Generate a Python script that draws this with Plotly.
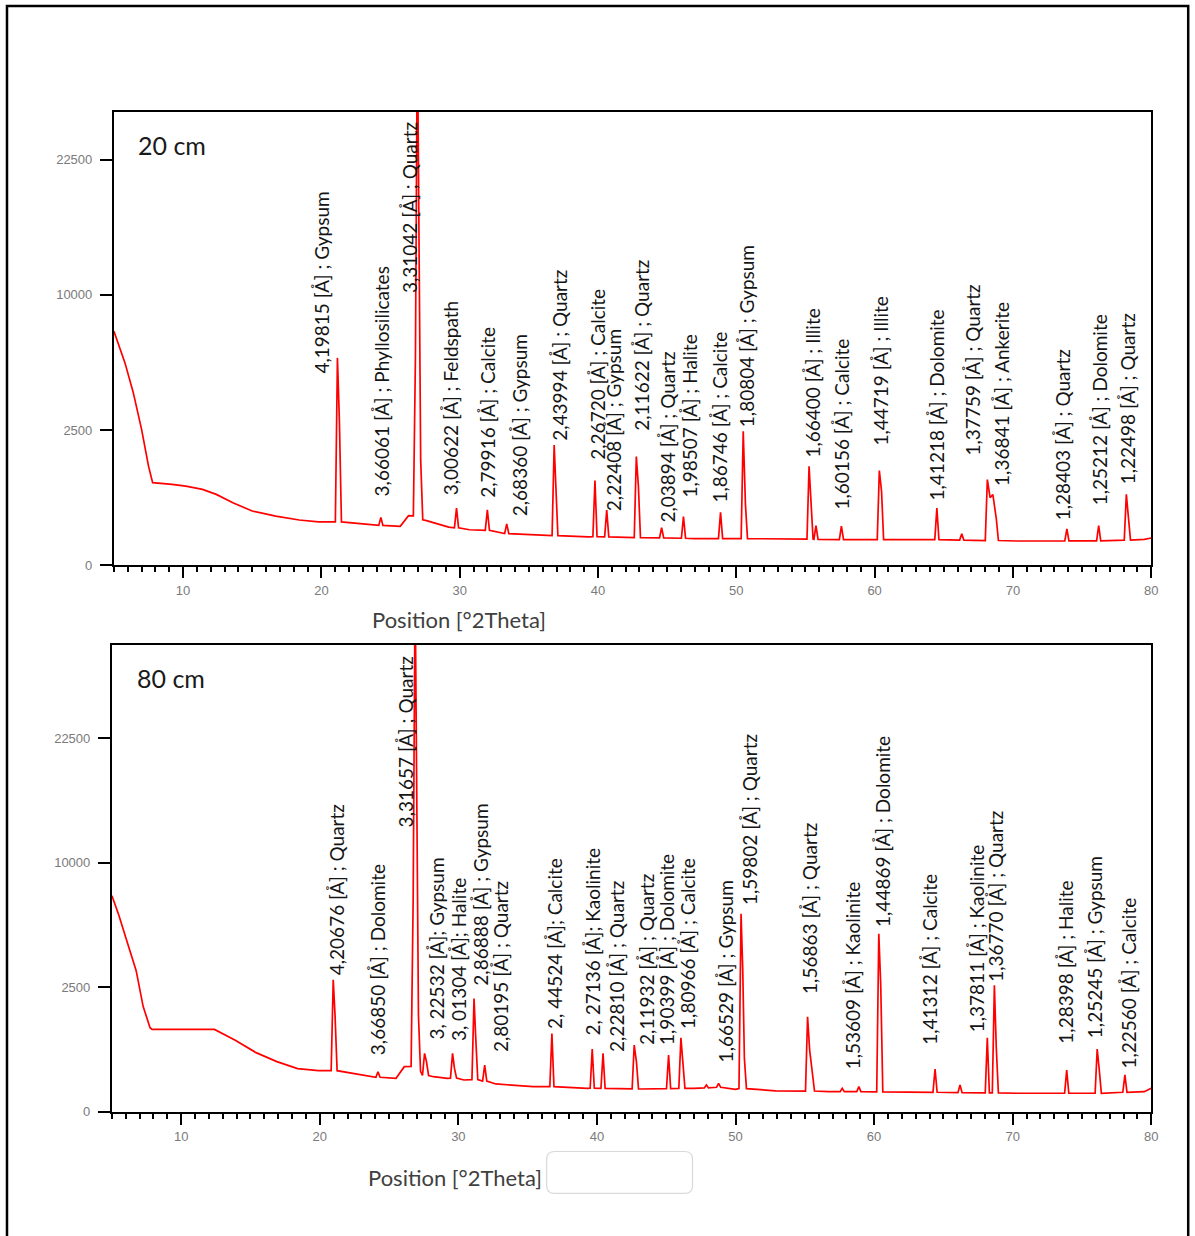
import numpy as np
import plotly.graph_objects as go

W, H = 1195, 1236
S = 0.9948  # compensation for the slight shrink seen in the rendered picture

# ---------------- data : 20 cm ----------------
BG_TOP_X = [5.0, 5.8, 6.4, 7.0, 7.5, 7.8, 9.2, 10.2, 11.4, 12.4, 13.6, 15.0, 16.7, 18.4, 19.8,
            22.2, 23.8, 25.7, 26.3, 27.6, 29.2, 30.7, 33.5, 36.2, 39.3, 43.2, 47.0, 52.9, 58.7,
            62.6, 70.3, 76.1, 79.5, 80.0]
BG_TOP_Y = [7490, 5600, 4070, 2520, 1340, 928, 890, 853, 784, 683, 532, 399, 328, 277, 255,
            245, 225, 205, 333, 270, 196, 170, 134, 118, 108, 100, 95, 95, 88,
            88, 79, 79, 90, 100]
PK_TOP_X = [21.16, 21.30, 24.30, 26.80, 26.94, 27.06, 27.18, 29.77, 32.00, 33.40, 36.83, 36.95,
            39.78, 40.63, 42.77, 42.92, 44.60, 46.18, 48.86, 50.50, 50.66, 55.26, 55.40, 55.76,
            57.60, 60.34, 60.50, 64.50, 66.30, 68.15, 68.35, 68.55, 68.80, 73.90, 76.20, 78.20, 78.35]
PK_TOP_Y = [5880, 2900, 311, 5900, 40000, 17800, 1500, 443, 418, 231, 1973, 1000,
            978, 413, 1613, 853, 190, 320, 379, 2453, 500, 1333, 450, 213,
            206, 1220, 750, 443, 134, 1000, 620, 680, 290, 179, 213, 685, 310]
PK_TOP_BASE = [255, 255, 215, 330, 330, 300, 280, 190, 165, 135, 118, 118,
               110, 108, 102, 102, 100, 98, 95, 95, 95, 92, 92, 90,
               88, 88, 88, 88, 85, 82, 82, 82, 82, 80, 80, 85, 85]

# ---------------- data : 80 cm ----------------
BG_BOT_X = [5.0, 5.5, 6.1, 6.75, 7.25, 7.75, 7.9, 10.0, 12.4, 13.9, 15.4, 16.9, 18.4, 19.9,
            23.0, 25.5, 26.1, 28.2, 29.2, 30.4, 32.7, 35.4, 39.3, 43.2, 47.0, 48.0, 50.0,
            52.9, 56.7, 62.6, 70.3, 76.1, 79.5, 80.0]
BG_BOT_Y = [7510, 6210, 4630, 3200, 1786, 1134, 1087, 1095, 1087, 822, 560, 402, 297, 270,
            216, 178, 325, 196, 178, 161, 123, 100, 87, 82, 87, 105, 80,
            69, 64, 60, 54, 54, 64, 87]
PK_BOT_X = [20.97, 21.10, 24.20, 26.74, 26.88, 27.00, 27.12, 27.56, 27.70, 29.58, 29.72, 31.13,
            31.25, 31.90, 36.75, 39.66, 40.44, 42.69, 42.85, 45.17, 46.06, 46.20, 47.90, 48.78,
            50.40, 50.52, 50.64, 55.20, 55.35, 55.55, 57.70, 58.90, 60.34, 60.48, 64.40, 66.20,
            68.17, 68.68, 68.82, 73.90, 76.10, 76.25, 78.10]
PK_BOT_Y = [2800, 1500, 256, 7400, 45000, 18000, 1500, 546, 400, 546, 300, 2060,
            900, 349, 984, 630, 546, 713, 400, 515, 878, 450, 114, 128,
            6310, 3300, 456, 1447, 610, 216, 87, 100, 5100, 2573, 292, 114,
            878, 2573, 643, 279, 630, 279, 216]
PK_BOT_BASE = [270, 270, 190, 330, 330, 300, 260, 210, 210, 180, 180, 165,
               165, 150, 100, 88, 87, 83, 83, 85, 87, 87, 90, 95,
               85, 85, 85, 68, 68, 68, 64, 64, 62, 62, 60, 58,
               56, 56, 56, 54, 54, 54, 60]

TOP_LABELS = ["4,19815 [Å] ; Gypsum", "3,66061 [Å] ; Phyllosilicates", "3,31042 [Å] ; Quartz",
              "3,00622 [Å] ; Feldspath", "2,79916 [Å] ; Calcite", "2,68360 [Å] ; Gypsum",
              "2,43994 [Å] ; Quartz", "2,26720 [Å] ; Calcite", "2,22408 [Å] ; Gypsum",
              "2,11622 [Å] ; Quartz", "2,03894 [Å] ; Quartz", "1,98507 [Å] ; Halite",
              "1,86746 [Å] ; Calcite", "1,80804 [Å] ; Gypsum", "1,66400 [Å] ; Illite",
              "1,60156 [Å] ; Calcite", "1,44719 [Å] ; Illite", "1,41218 [Å] ; Dolomite",
              "1,37759 [Å] ; Quartz", "1,36841 [Å] ; Ankerite", "1,28403 [Å] ; Quartz",
              "1,25212 [Å] ; Dolomite", "1,22498 [Å] ; Quartz"]
BOT_LABELS = ["4,20676 [Å] ; Quartz", "3,66850 [Å] ; Dolomite", "3,31657 [Å] ; Quartz",
              "3, 22532 [Å]; Gypsum", "3, 01304 [Å]; Halite", "2,86888 [Å] ; Gypsum",
              "2,80195 [Å] ; Quartz", "2, 44524 [Å]; Calcite", "2, 27136 [Å]; Kaolinite",
              "2,22810 [Å] ; Quartz", "2,11932 [Å] ; Quartz", "1,90399 [Å] ; Dolomite",
              "1,80966 [Å] ; Calcite", "1,66529 [Å] ; Gypsum", "1,59802 [Å] ; Quartz",
              "1,56863 [Å] ; Quartz", "1,53609 [Å] ; Kaolinite", "1,44869 [Å] ; Dolomite",
              "1,41312 [Å] ; Calcite", "1,37811 [Å] ; Kaolinite", "1,36770 [Å] ; Quartz",
              "1,28398 [Å] ; Halite", "1,25245 [Å] ; Gypsum", "1,22560 [Å] ; Calcite"]

Y_TICK_VALUES = [0, 2500, 10000, 22500]

# ---------------- layout positions (pixels) ----------------
TOP_LABEL_PX = [(322, 190), (382, 265), (410, 120), (451, 300), (487, 325), (520, 333),
                (560, 268), (598, 287), (614, 328), (642, 258), (667, 350), (690, 333),
                (720, 330), (747, 244), (813, 307), (842, 337), (881, 295), (937, 308),
                (973, 283), (1002, 300), (1063, 348), (1100, 313), (1128, 312)]
BOT_LABEL_PX = [(337, 803), (378, 863), (406, 655), (437, 857), (459, 877), (481, 803),
                (501, 880), (555, 857), (593, 847), (617, 880), (647, 873), (667, 853),
                (688, 857), (726, 880), (750, 733), (810, 822), (853, 880), (883, 735),
                (930, 873), (978, 843), (996, 810), (1066, 880), (1096, 855), (1129, 897)]

HW = 0.15  # half width of a drawn peak, degrees


def fx(x):
    return x / (W * S)


def fy(y):
    return 1 - y / (H * S)


def build(bg_x, bg_y, pk_x, pk_y, pk_b):
    order = np.argsort(pk_x)
    px = [pk_x[i] for i in order]
    py = [pk_y[i] for i in order]
    pb = [pk_b[i] for i in order]
    pts = []
    for x, y in zip(bg_x, bg_y):
        if all(abs(x - p) > 2 * HW for p in px):
            pts.append((x, y))
    n = len(px)
    for i in range(n):
        pts.append((px[i], py[i]))
        if i == 0 or px[i] - px[i - 1] > 2 * HW:
            pts.append((px[i] - HW, pb[i]))
        if i == n - 1 or px[i + 1] - px[i] > 2 * HW:
            pts.append((px[i] + HW, pb[i]))
    pts.sort()
    xs = [p[0] for p in pts]
    ys = [float(np.sqrt(p[1])) for p in pts]
    return xs, ys


fig = go.Figure()
tx, ty = build(BG_TOP_X, BG_TOP_Y, PK_TOP_X, PK_TOP_Y, PK_TOP_BASE)
bx, by = build(BG_BOT_X, BG_BOT_Y, PK_BOT_X, PK_BOT_Y, PK_BOT_BASE)
fig.add_trace(go.Scatter(x=tx, y=ty, mode="lines", line=dict(color="#ff0000", width=1.7),
                         xaxis="x", yaxis="y", showlegend=False, hoverinfo="skip"))
fig.add_trace(go.Scatter(x=bx, y=by, mode="lines", line=dict(color="#ff0000", width=1.7),
                         xaxis="x2", yaxis="y2", showlegend=False, hoverinfo="skip"))

tick_font = dict(family="Liberation Sans, Arial", size=13, color="#7a7a7a")


def xaxis(domain, anchor):
    return dict(domain=domain, anchor=anchor, range=[5, 80], tick0=0, dtick=10,
                ticks="outside", ticklen=11, tickwidth=2, tickcolor="black",
                showline=True, linecolor="black", linewidth=2, mirror=True,
                showgrid=False, zeroline=False, tickfont=tick_font, ticklabelstandoff=1,
                minor=dict(dtick=1, tick0=0, ticks="outside", ticklen=5, tickwidth=1.5,
                           tickcolor="black", showgrid=False))


def yaxis(domain, anchor, top):
    return dict(domain=domain, anchor=anchor, range=[0, top],
                tickvals=[float(np.sqrt(v)) for v in Y_TICK_VALUES],
                ticktext=[str(v) for v in Y_TICK_VALUES],
                ticks="outside", ticklen=12, tickwidth=2, tickcolor="black",
                showline=True, linecolor="black", linewidth=2, mirror=True,
                showgrid=False, zeroline=False, tickfont=tick_font, ticklabelstandoff=5)


fig.update_layout(
    width=W, height=H, autosize=False,
    margin=dict(l=0, r=0, t=0, b=0),
    paper_bgcolor="white", plot_bgcolor="white",
    xaxis=xaxis([fx(114), fx(1152)], "y"),
    yaxis=yaxis([fy(565.7), fy(111.7)], "x", 167.9),
    xaxis2=xaxis([fx(112), fx(1152)], "y2"),
    yaxis2=yaxis([fy(1113), fy(645.4)], "x2", 187.5),
)

ann = []
lab_font = dict(family="Lato, Open Sans, sans-serif", size=19, color="#151515")
for text, (x, y) in zip(TOP_LABELS, TOP_LABEL_PX):
    ann.append(dict(text=text, x=fx(x), y=fy(y), xref="paper", yref="paper",
                    textangle=-90, xanchor="center", yanchor="top", showarrow=False,
                    font=lab_font))
for text, (x, y) in zip(BOT_LABELS, BOT_LABEL_PX):
    ann.append(dict(text=text, x=fx(x), y=fy(y), xref="paper", yref="paper",
                    textangle=-90, xanchor="center", yanchor="top", showarrow=False,
                    font=lab_font))

title_font = dict(family="Lato, Open Sans, sans-serif", size=25, color="#1a1a1a")
ann.append(dict(text="20 cm", x=fx(136), y=fy(145), xref="paper", yref="paper",
                xanchor="left", yanchor="middle", showarrow=False, font=title_font))
ann.append(dict(text="80 cm", x=fx(135), y=fy(679), xref="paper", yref="paper",
                xanchor="left", yanchor="middle", showarrow=False, font=title_font))

axt_font = dict(family="Lato, Open Sans, sans-serif", size=22, color="#404040")
ann.append(dict(text="Position [°2Theta]", x=fx(459), y=fy(620), xref="paper", yref="paper",
                xanchor="center", yanchor="middle", showarrow=False, font=axt_font))
ann.append(dict(text="Position [°2Theta]", x=fx(455), y=fy(1179), xref="paper", yref="paper",
                xanchor="center", yanchor="middle", showarrow=False, font=axt_font))
fig.update_layout(annotations=ann)

# outer frame
shapes = [dict(type="rect", xref="paper", yref="paper", x0=fx(7), x1=fx(1189),
               y0=fy(1250), y1=fy(6),
               line=dict(color="black", width=2.5), fillcolor="rgba(0,0,0,0)", layer="above")]

# small rounded empty box
bx0, by0, bx1, by1, r = 547, 1153, 693, 1195, 8


def P(x, y):
    return f"{fx(x):.5f},{fy(y):.5f}"


path = (f"M {P(bx0 + r, by0)} L {P(bx1 - r, by0)} Q {P(bx1, by0)} {P(bx1, by0 + r)} "
        f"L {P(bx1, by1 - r)} Q {P(bx1, by1)} {P(bx1 - r, by1)} "
        f"L {P(bx0 + r, by1)} Q {P(bx0, by1)} {P(bx0, by1 - r)} "
        f"L {P(bx0, by0 + r)} Q {P(bx0, by0)} {P(bx0 + r, by0)} Z")
shapes.append(dict(type="path", xref="paper", yref="paper", path=path,
                   line=dict(color="#d9d9d9", width=1.2)))
fig.update_layout(shapes=shapes)

fig.write_html("out.html")
